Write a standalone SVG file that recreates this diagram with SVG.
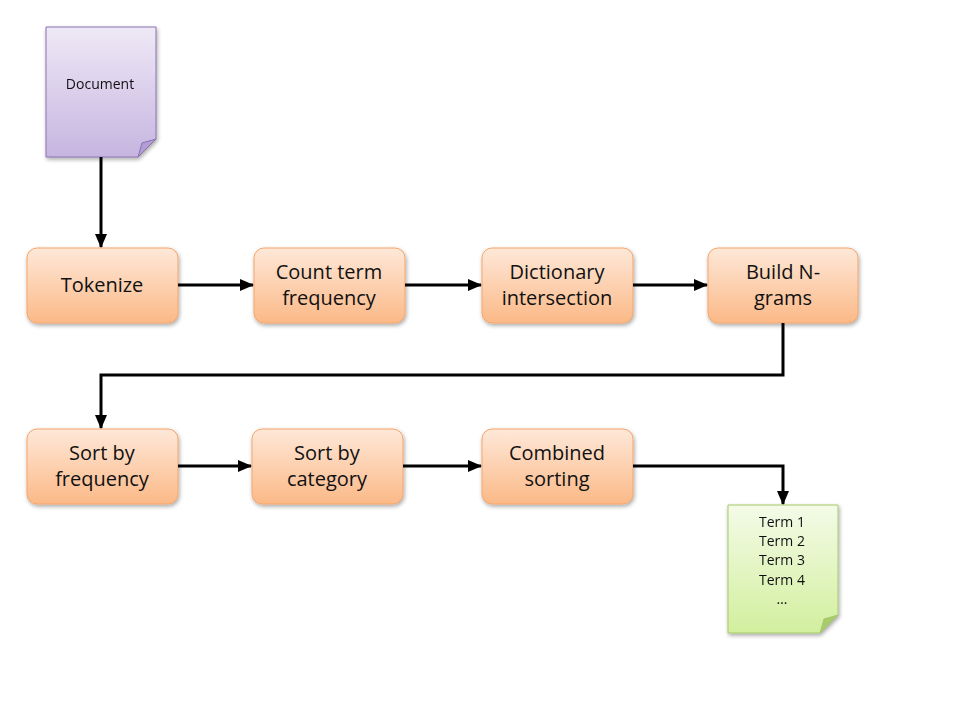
<svg xmlns="http://www.w3.org/2000/svg" width="960" height="720" viewBox="0 0 960 720">
<defs>
<linearGradient id="gO" x1="0" y1="0" x2="0" y2="1"><stop offset="0" stop-color="#fee8d9"/><stop offset="1" stop-color="#fbb987"/></linearGradient>
<linearGradient id="gP" x1="0" y1="0" x2="0" y2="1"><stop offset="0" stop-color="#efe9f6"/><stop offset="1" stop-color="#c6b5e0"/></linearGradient>
<linearGradient id="gG" x1="0" y1="0" x2="0" y2="1"><stop offset="0" stop-color="#f4fbe8"/><stop offset="1" stop-color="#d2ef9e"/></linearGradient>
<filter id="sh" x="-10%" y="-10%" width="130%" height="130%"><feGaussianBlur in="SourceAlpha" stdDeviation="2"/><feOffset dx="1" dy="2"/><feComponentTransfer><feFuncA type="linear" slope="0.35"/></feComponentTransfer><feMerge><feMergeNode/><feMergeNode in="SourceGraphic"/></feMerge></filter>
<marker id="ar" markerWidth="14" markerHeight="12" refX="13" refY="6" orient="auto" markerUnits="userSpaceOnUse"><path d="M0,0 L14,6 L0,12 z" fill="#000"/></marker>
</defs>
<style>
.box{fill:url(#gO);stroke:#f7a468;stroke-width:1;filter:url(#sh)}
.t{font-family:"Open Sans","DejaVu Sans",sans-serif;font-size:20px;fill:#111;text-anchor:middle}
.s{font-family:"Open Sans","DejaVu Sans",sans-serif;font-size:14px;fill:#111;text-anchor:middle}
.c{fill:none;stroke:#000;stroke-width:3;marker-end:url(#ar)}
</style>
<rect width="960" height="720" fill="#fff"/>
<g id="document" filter="url(#sh)">
<path d="M46,27 H156 V139 L138,157 H46 Z" fill="url(#gP)" stroke="#8a72b0" stroke-width="1"/>
<path d="M138,157 L142,143 L156,139 Z" fill="#b29dd4" stroke="#8a72b0" stroke-width="1"/>
<text class="s" x="100" y="89">Document</text>
</g>
<g id="tokenize"><rect class="box" x="27" y="248" width="151" height="75" rx="10"/><text class="t" x="102" y="292">Tokenize</text></g>
<g id="count"><rect class="box" x="254" y="248" width="151" height="75" rx="10"/><text class="t" x="329" y="279">Count term</text><text class="t" x="329" y="305">frequency</text></g>
<g id="dictionary"><rect class="box" x="482" y="248" width="151" height="75" rx="10"/><text class="t" x="557" y="279">Dictionary</text><text class="t" x="557" y="305">intersection</text></g>
<g id="ngrams"><rect class="box" x="708" y="248" width="150" height="75" rx="10"/><text class="t" x="783" y="279">Build N-</text><text class="t" x="783" y="305">grams</text></g>
<g id="sortfreq"><rect class="box" x="27" y="429" width="151" height="75" rx="10"/><text class="t" x="102" y="460">Sort by</text><text class="t" x="102" y="486">frequency</text></g>
<g id="sortcat"><rect class="box" x="252" y="429" width="151" height="75" rx="10"/><text class="t" x="327" y="460">Sort by</text><text class="t" x="327" y="486">category</text></g>
<g id="combined"><rect class="box" x="482" y="429" width="151" height="75" rx="10"/><text class="t" x="557" y="460">Combined</text><text class="t" x="557" y="486">sorting</text></g>
<g id="terms" filter="url(#sh)">
<path d="M728,505 H838 V615 L820,633 H728 Z" fill="url(#gG)" stroke="#a6c96a" stroke-width="1"/>
<path d="M820,633 L824,619 L838,615 Z" fill="#a8cc6c" stroke="#a6c96a" stroke-width="1"/>
<text class="s" x="782" y="527">Term 1</text>
<text class="s" x="782" y="546">Term 2</text>
<text class="s" x="782" y="565">Term 3</text>
<text class="s" x="782" y="585">Term 4</text>
<text class="s" x="782" y="604">…</text>
</g>
<g id="connectors">
<path class="c" d="M101,157 V247"/>
<path class="c" d="M178,285 H253"/>
<path class="c" d="M405,285 H481"/>
<path class="c" d="M633,285 H707"/>
<path class="c" d="M783,323 V375 H101 V428"/>
<path class="c" d="M178,466 H251"/>
<path class="c" d="M403,466 H481"/>
<path class="c" d="M633,466 H783 V504"/>
</g>
</svg>
